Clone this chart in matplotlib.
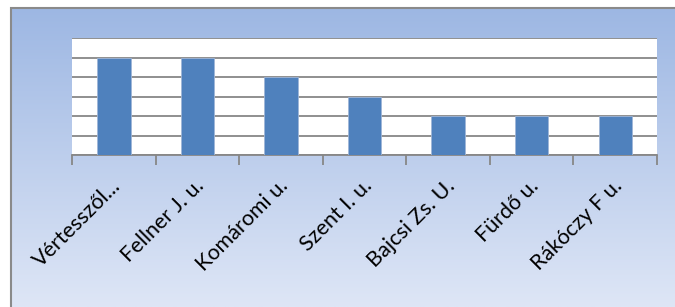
import numpy as np
import matplotlib.pyplot as plt
import matplotlib.transforms as mtransforms
from matplotlib.patches import Rectangle

streets = ["Vértesszől...", "Fellner J. u.", "Komáromi u.", "Szent I. u.",
           "Bajcsi Zs. U.", "Fürdő u.", "Rákóczy F u."]
counts = [5, 5, 4, 3, 2, 2, 2]

W, H = 675, 307
fig = plt.figure(figsize=(W / 100, H / 100), dpi=100)
fig.patch.set_facecolor("white")

# gradient panel behind the chart
bg = fig.add_axes([10 / W, 0, 1 - 10 / W, 1 - 8 / H])
top_c = np.array([157, 183, 227]) / 255
bot_c = np.array([222, 230, 246]) / 255
t = np.linspace(0, 1, 256)[:, None]
grad = top_c * (1 - t) + bot_c * t
bg.imshow(grad[:, None, :].repeat(2, axis=1), aspect="auto", extent=[0, 1, 0, 1])
bg.set_axis_off()
fig.add_artist(Rectangle((10.5 / W, -0.1), 2, 1 - 8.5 / H + 0.1, transform=fig.transFigure,
                         fill=False, edgecolor="#8a8a8a", linewidth=1.5))

ax = fig.add_axes([72 / W, (H - 155) / H, (657 - 72) / W, (155 - 38) / H])
ax.set_facecolor("white")
x = np.arange(len(streets))
ax.bar(x, counts, width=0.4, color="#4F81BD", edgecolor="#9fb6d8", linewidth=0.6, zorder=3)
ax.set_xlim(-0.5, len(streets) - 0.5)
ax.set_ylim(0, 6)
ax.set_yticks(range(7))
ax.yaxis.grid(True, color="#878787", linewidth=1.3)
ax.set_axisbelow(True)
ax.tick_params(axis="y", length=0, labelleft=False)
for s in ["left", "right", "top"]:
    ax.spines[s].set_visible(False)
ax.spines["bottom"].set_color("#878787")
ax.spines["bottom"].set_linewidth(1.3)

ax.set_xticks(x)
ax.set_xticklabels(streets, rotation=45, ha="right", va="center", rotation_mode="anchor",
                   fontsize=15.5, family="Lato")
ax.tick_params(axis="x", which="major", length=0, pad=20)
shift = mtransforms.ScaledTranslation(4 / 100, 0, fig.dpi_scale_trans)
for lbl in ax.get_xticklabels():
    lbl.set_transform(lbl.get_transform() + shift)
ax.set_xticks(np.arange(len(streets) + 1) - 0.5, minor=True)
ax.tick_params(axis="x", which="minor", length=7, width=1.3, color="#878787")

fig.savefig("out.png", dpi=100)
